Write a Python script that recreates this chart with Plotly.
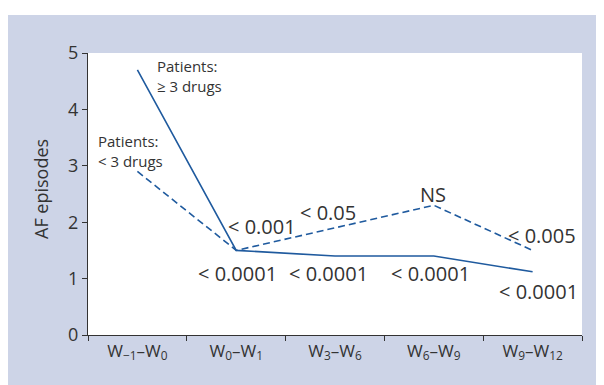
import plotly.graph_objects as go

categories = ["W<sub>−1</sub>–W<sub>0</sub>", "W<sub>0</sub>–W<sub>1</sub>",
              "W<sub>3</sub>–W<sub>6</sub>", "W<sub>6</sub>–W<sub>9</sub>",
              "W<sub>9</sub>–W<sub>12</sub>"]
ge3_drugs = [4.7, 1.5, 1.4, 1.4, 1.12]
lt3_drugs = [2.9, 1.5, 1.9, 2.3, 1.5]
y_ticks = [0, 1, 2, 3, 4, 5]
y_title = "AF episodes"

LINE = "#1f5a9e"
BG = "#cdd4e7"
TXT = "#333333"
FONT = "Open Sans"

fig = go.Figure()
fig.add_trace(go.Scatter(x=categories, y=lt3_drugs, mode="lines",
                         line=dict(color=LINE, width=1.6, dash="7px,4px"),
                         showlegend=False))
fig.add_trace(go.Scatter(x=categories, y=ge3_drugs, mode="lines",
                         line=dict(color=LINE, width=1.6),
                         showlegend=False))

shapes = [
    dict(type="rect", xref="paper", yref="paper", x0=-0.162, x1=1.2, y0=-0.4, y1=1.135,
         fillcolor=BG, line=dict(width=0), layer="below"),
    dict(type="rect", xref="paper", yref="paper", x0=0, x1=1, y0=0, y1=1,
         fillcolor="white", line=dict(width=0), layer="below"),
]

ann = []
def add(text, x, y, size=20, xanchor="center", yanchor="middle", align="center"):
    ann.append(dict(text=text, x=x, y=y, xref="x", yref="y", showarrow=False,
                    font=dict(family=FONT, size=size, color=TXT),
                    xanchor=xanchor, yanchor=yanchor, align=align))

add("Patients:<br>≥ 3 drugs", 0.18, 4.99, size=15, xanchor="left", yanchor="top", align="left")
add("Patients:<br>< 3 drugs", -0.42, 3.66, size=15, xanchor="left", yanchor="top", align="left")
add("< 0.001", 1.265, 1.92)
add("< 0.05", 1.93, 2.17)
add("NS", 2.99, 2.49)
add("< 0.005", 4.1, 1.76)
add("< 0.0001", 1.01, 1.09)
add("< 0.0001", 1.93, 1.09)
add("< 0.0001", 2.97, 1.09)
add("< 0.0001", 4.06, 0.77)

ann.append(dict(text=y_title, x=-0.095, y=0.518, xref="paper", yref="paper",
                showarrow=False, textangle=-90, xanchor="center", yanchor="middle",
                font=dict(family=FONT, size=18, color=TXT)))

fig.update_layout(
    width=604, height=385,
    margin=dict(l=80, r=30, t=45, b=58),
    paper_bgcolor="white", plot_bgcolor="white",
    shapes=shapes, annotations=ann,
    font=dict(family=FONT, color=TXT),
    xaxis=dict(type="category", range=[-0.5, 4.5], tickson="boundaries",
               ticks="outside", ticklen=5, tickcolor=TXT, showgrid=False,
               showline=True, linecolor=TXT, linewidth=1.2, zeroline=False,
               tickfont=dict(family=FONT, size=17, color=TXT)),
    yaxis=dict(range=[0, 5], tickvals=y_ticks, ticks="outside", ticklen=5,
               tickcolor=TXT, showgrid=False, showline=True, linecolor=TXT,
               linewidth=1.2, zeroline=False,
               tickfont=dict(family=FONT, size=18, color=TXT)),
)

fig.write_html("out.html")
